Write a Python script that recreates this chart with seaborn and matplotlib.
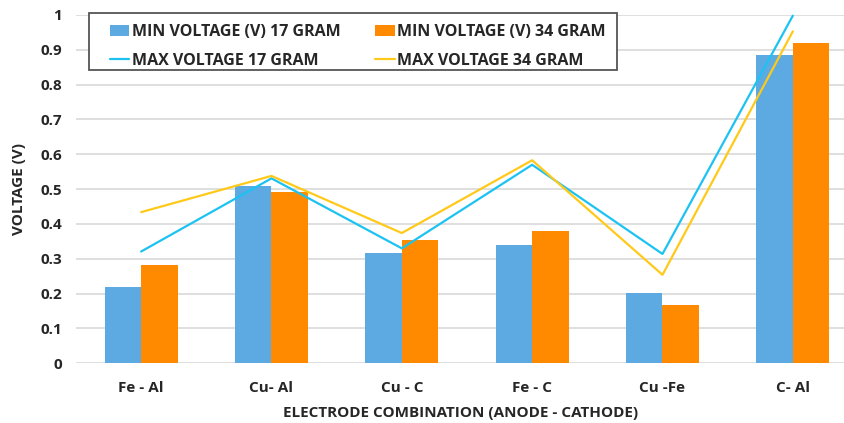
import numpy as np
import pandas as pd
import matplotlib
matplotlib.use("Agg")
import matplotlib.pyplot as plt
import seaborn as sns
from matplotlib.patches import Patch, Rectangle
from matplotlib.lines import Line2D

categories = ["Fe - Al", "Cu- Al", "Cu - C", "Fe - C", "Cu -Fe", "C- Al"]
min_17 = [0.218, 0.509, 0.316, 0.340, 0.203, 0.886]
min_34 = [0.282, 0.492, 0.354, 0.381, 0.168, 0.919]
max_17 = [0.321, 0.531, 0.330, 0.570, 0.314, 0.998]
max_34 = [0.434, 0.538, 0.374, 0.583, 0.254, 0.953]
series_names = ["MIN VOLTAGE (V) 17 GRAM", "MIN VOLTAGE (V) 34 GRAM",
                "MAX VOLTAGE 17 GRAM", "MAX VOLTAGE 34 GRAM"]
yticks = [0, 0.1, 0.2, 0.3, 0.4, 0.5, 0.6, 0.7, 0.8, 0.9, 1]

blue = "#5DA9E1"
orange = "#FF8A00"
cyan = "#1CC3F2"
yellow = "#FFC91A"

sns.set_style("white")
plt.rcParams["font.family"] = ["Open Sans", "DejaVu Sans"]
plt.rcParams["font.weight"] = "bold"

W, H = 845, 423
fig = plt.figure(figsize=(W / 100, H / 100), dpi=100)
ax = fig.add_axes([76 / W, 1 - 363.3 / H, (W - 76) / W, (363.3 - 15) / H])

df = pd.DataFrame({
    "cat": categories * 2,
    "val": min_17 + min_34,
    "series": [series_names[0]] * 6 + [series_names[1]] * 6,
})
sns.barplot(data=df, x="cat", y="val", hue="series", order=categories,
            hue_order=series_names[:2], palette=[blue, orange], width=0.56,
            gap=0, saturation=1, ax=ax, legend=False, edgecolor="none")

xs = np.arange(len(categories))
sns.lineplot(x=xs, y=max_17, color=cyan, lw=1.6, ax=ax, sort=False, clip_on=False)
sns.lineplot(x=xs, y=max_34, color=yellow, lw=1.6, ax=ax, sort=False, clip_on=False)

ax.set_ylim(0, 1)
ax.set_xlim(-0.5, 5.5 - 13 / 130.4)
ax.set_yticks(yticks)
ax.set_yticklabels(["0", "0.1", "0.2", "0.3", "0.4", "0.5", "0.6", "0.7", "0.8", "0.9", "1"])
ax.yaxis.grid(True, color="#D9D9D9", lw=1.2)
ax.set_axisbelow(True)
for s in ["top", "right", "left", "bottom"]:
    ax.spines[s].set_visible(False)
ax.tick_params(axis="both", length=0, labelsize=11, pad=10)
ax.tick_params(axis="x", pad=13)
for lab in ax.get_xticklabels() + ax.get_yticklabels():
    lab.set_fontweight("bold")
ax.set_xlabel("ELECTRODE COMBINATION (ANODE - CATHODE)", fontsize=11, fontweight="bold", labelpad=8)
ax.set_ylabel("VOLTAGE (V)", fontsize=11, fontweight="bold", labelpad=10)

handles = [Patch(facecolor=blue, edgecolor="none"),
           Line2D([0], [0], color=cyan, lw=1.6),
           Patch(facecolor=orange, edgecolor="none"),
           Line2D([0], [0], color=yellow, lw=1.6)]
labels = [series_names[0], series_names[2], series_names[1], series_names[3]]
leg = fig.legend(handles, labels, ncol=2, loc="upper left",
                 bbox_to_anchor=(110 / W, 1 - 24 / H), bbox_transform=fig.transFigure,
                 frameon=False, prop={"weight": "bold", "size": 11.5},
                 handlelength=1.2, handleheight=0.7, handletextpad=0.15,
                 columnspacing=2.2, borderpad=0, borderaxespad=0,
                 labelspacing=0.8)
fig.patches.append(Rectangle((89 / W, 1 - 70 / H), (617 - 89) / W, (70 - 13) / H,
                             transform=fig.transFigure, facecolor="white",
                             edgecolor="#555555", lw=1.3, zorder=4))
leg.set_zorder(5)

fig.savefig("out.png", dpi=100)
